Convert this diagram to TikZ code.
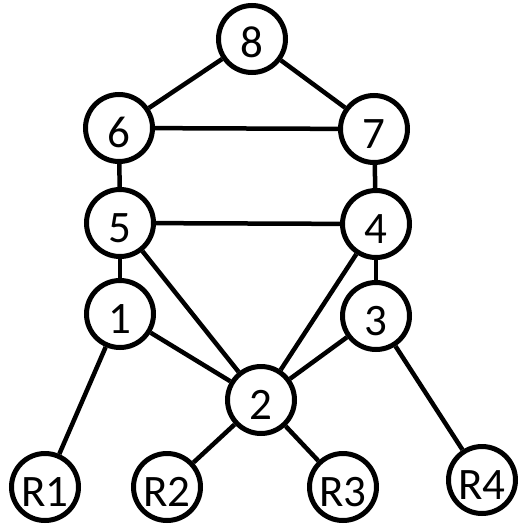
\documentclass[tikz,border=0pt]{standalone}
\usepackage{fontspec}
\setmainfont{Carlito}
\begin{document}
\begin{tikzpicture}[x=1pt,y=-1pt,
  vert/.style={circle,draw=black,line width=5pt,minimum size=67pt,inner sep=0pt,
    font=\fontsize{45}{45}\selectfont,text height=38pt,text depth=0pt},
  edge/.style={line width=4.5pt,black}]
\useasboundingbox (0,0) rectangle (530,527);
\node[vert] (n8) at (252,39) {8};
\node[vert] (n6) at (119,128) {6};
\node[vert] (n7) at (374,129) {7};
\node[vert] (n5) at (120,223) {5};
\node[vert] (n4) at (376,224) {4};
\node[vert] (n1) at (120,314) {1};
\node[vert] (n3) at (376,316) {3};
\node[vert] (n2) at (261,400) {2};
\node[vert] (r1) at (45,487) {R1};
\node[vert] (r2) at (167,487) {R2};
\node[vert] (r3) at (343,487) {R3};
\node[vert] (r4) at (482,480) {R4};
\draw[edge] (n8) -- (n6);
\draw[edge] (n8) -- (n7);
\draw[edge] (n6) -- (n7);
\draw[edge] (n6) -- (n5);
\draw[edge] (n7) -- (n4);
\draw[edge] (n5) -- (n4);
\draw[edge] (n5) -- (n1);
\draw[edge] (n4) -- (n3);
\draw[edge] (n5) -- (n2);
\draw[edge] (n4) -- (n2);
\draw[edge] (n1) -- (n2);
\draw[edge] (n3) -- (n2);
\draw[edge] (n1) -- (r1);
\draw[edge] (n2) -- (r2);
\draw[edge] (n2) -- (r3);
\draw[edge] (n3) -- (r4);
\end{tikzpicture}
\end{document}
